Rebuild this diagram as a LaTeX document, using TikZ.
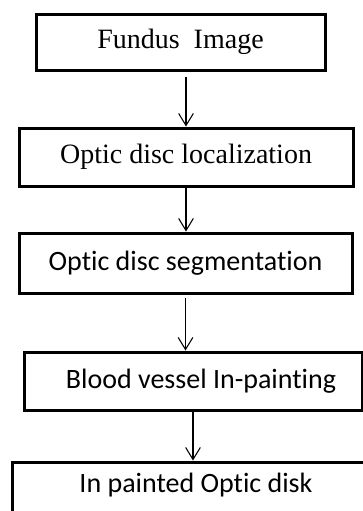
\documentclass[tikz,border=0pt]{standalone}
\usepackage{fontspec}
\setmainfont{Liberation Serif}
\newfontfamily\calibrifont[Ligatures=NoCommon]{Carlito}
\usetikzlibrary{arrows.meta}

\begin{document}
\begin{tikzpicture}[x=0.75pt,y=0.75pt,yscale=-1,xscale=1,
	stagebox/.style={draw, line width=2.25pt, inner sep=0pt, font=\fontsize{21}{25}\selectfont},
	flowarrow/.style={line width=0.8pt, -{Straight Barb[length=9pt,width=11pt]}}]
			\useasboundingbox (0,0) rectangle (363,511);
			% stages
			\node[stagebox, minimum width=216.75pt, minimum height=42pt] (fundus) at (180.5,42) {Fundus~~Image};
			\node[stagebox, minimum width=250.5pt, minimum height=43.5pt] (localize) at (186,157) {Optic disc localization};
			\node[stagebox, minimum width=249.75pt, minimum height=45pt] (segment) at (185.5,263) {\calibrifont Optic disc segmentation};
			\node[stagebox, minimum width=253.5pt, minimum height=43.5pt] (inpaint) at (193,381) {\calibrifont\hspace*{12pt}Blood vessel In-painting};
			\node[stagebox, minimum width=276pt, minimum height=51pt, text height=10pt, text depth=16pt] (result) at (196,496) {\calibrifont In painted Optic disk};
			% arrows
			\draw[flowarrow] (fundus.south -| localize.north) ++(0,5) -- (localize.north);
			\draw[flowarrow] (localize.south) -- (localize.south |- segment.north);
			\draw[flowarrow] (segment.south) ++(0,3) -- (segment.south |- inpaint.north);
			\draw[flowarrow] (inpaint.south) -- (inpaint.south |- result.north);
\end{tikzpicture}
\end{document}
